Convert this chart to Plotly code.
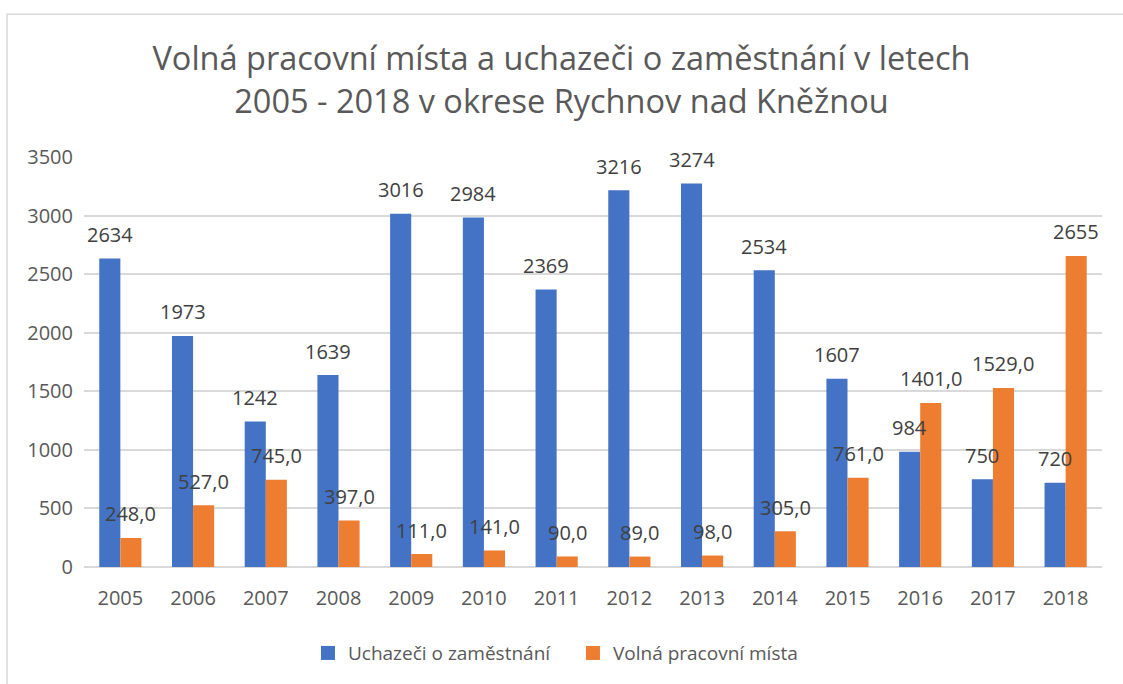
import plotly.graph_objects as go

years = ["2005", "2006", "2007", "2008", "2009", "2010", "2011",
         "2012", "2013", "2014", "2015", "2016", "2017", "2018"]
uchazeci = [2634, 1973, 1242, 1639, 3016, 2984, 2369,
            3216, 3274, 2534, 1607, 984, 750, 720]
volna_mista = [248, 527, 745, 397, 111, 141, 90,
               89, 98, 305, 761, 1401, 1529, 2655]
# labels as printed in the chart (last one has no decimals)
volna_labels = ["248,0", "527,0", "745,0", "397,0", "111,0", "141,0", "90,0",
                "89,0", "98,0", "305,0", "761,0", "1401,0", "1529,0", "2655"]

blue = "#4472C4"
orange = "#ED7D31"
font = "Open Sans"

fig = go.Figure()
fig.add_trace(go.Bar(x=years, y=uchazeci, name="Uchazeči o zaměstnání",
                     marker=dict(color=blue, line=dict(width=0)), showlegend=False))
fig.add_trace(go.Bar(x=years, y=volna_mista, name="Volná pracovní místa",
                     marker=dict(color=orange, line=dict(width=0)), showlegend=False))

# square legend keys like Excel
for name, col in [("Uchazeči o zaměstnání", blue), ("Volná pracovní místa", orange)]:
    fig.add_trace(go.Scatter(x=[None], y=[None], mode="markers", name=name,
                             marker=dict(symbol="square", size=14, color=col)))

# data labels above bars (Excel style); x given as category index
for i, (u, v, vl) in enumerate(zip(uchazeci, volna_mista, volna_labels)):
    fig.add_annotation(x=i, y=u, text=f"{u}", showarrow=False,
                       xshift=-10.5, yshift=24, yanchor="middle",
                       font=dict(size=20, color="#404040", family=font))
    fig.add_annotation(x=i, y=v, text=vl,
                       showarrow=False, xshift=10.5, yshift=24, yanchor="middle",
                       font=dict(size=20, color="#404040", family=font))

# outer chart border (only top and left edges fall inside the picture)
fig.add_shape(type="rect", xref="paper", yref="paper",
              x0=-0.0756, x1=1.03, y0=-0.29, y1=1.348,
              line=dict(color="#D9D9D9", width=1.5), layer="below")

fig.update_layout(
    width=1123, height=684,
    margin=dict(l=84, r=21, t=157, b=113),
    paper_bgcolor="white", plot_bgcolor="white",
    font=dict(family=font, color="#595959", size=19),
    title=dict(text="Volná pracovní místa a uchazeči o zaměstnání v letech<br>2005 - 2018 v okrese Rychnov nad Kněžnou",
               x=0.5, xanchor="center", y=0.897, yanchor="middle",
               font=dict(size=32.5, color="#595959", family=font)),
    barmode="group", bargap=0.42, bargroupgap=0,
    showlegend=True,
    legend=dict(orientation="h", x=0.22, xanchor="left", y=-0.21, yanchor="middle",
                font=dict(size=19, color="#595959", family=font), traceorder="normal",
                itemwidth=30, entrywidth=220, entrywidthmode="pixels"),
)
fig.update_xaxes(type="category", range=[-0.5, len(years) - 0.5],
                 showgrid=False, showline=False,
                 ticks="outside", ticklen=13, tickcolor="rgba(0,0,0,0)",
                 tickfont=dict(size=20, color="#595959"))
fig.update_yaxes(range=[0, 3500], dtick=500, showgrid=True, gridcolor="#D9D9D9",
                 gridwidth=1.5, zeroline=True, zerolinecolor="#D9D9D9", zerolinewidth=1.5,
                 ticks="outside", ticklen=6, tickcolor="rgba(0,0,0,0)",
                 tickfont=dict(size=20, color="#595959"))

# drop the default page margin so the figure sits at the window's corner
fig.write_html("out.html", config={"displayModeBar": False},
               post_script="document.body.style.margin='0';")
